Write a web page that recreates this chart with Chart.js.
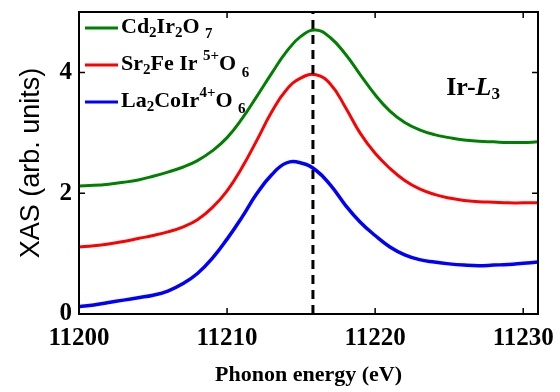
<!DOCTYPE html>
<html lang="en">
<head>
<meta charset="UTF-8">
<title>XAS Ir L3 edge</title>
<style>
  html, body { margin: 0; padding: 0; background: #fff; }
  #wrap { width: 560px; height: 392px; }
</style>
</head>
<body>
<div id="wrap"><canvas id="myChart" width="560" height="392"></canvas></div>

<script src="https://cdn.jsdelivr.net/npm/chart.js"></script>
<script>
    // photon energy grid (eV) and the three spectra
    var energy = [11200, 11201, 11202, 11203, 11204, 11205, 11206, 11207, 11208, 11209,
                  11210, 11211, 11212, 11213, 11214, 11215, 11216, 11217, 11218, 11219,
                  11220, 11221, 11222, 11223, 11224, 11225, 11226, 11227, 11228, 11229,
                  11230, 11231];
    var cd2ir2o7 = [2.12, 2.13, 2.15, 2.18, 2.22, 2.28, 2.35, 2.43, 2.54, 2.70,
                    2.92, 3.23, 3.60, 3.98, 4.34, 4.60, 4.70, 4.57, 4.30, 3.96,
                    3.63, 3.36, 3.17, 3.05, 2.97, 2.92, 2.88, 2.86, 2.85, 2.84,
                    2.84, 2.85];
    var sr2feiro6 = [1.11, 1.13, 1.16, 1.20, 1.25, 1.30, 1.36, 1.44, 1.56, 1.76,
                     2.04, 2.42, 2.87, 3.34, 3.71, 3.91, 3.96, 3.80, 3.42, 2.99,
                     2.66, 2.41, 2.21, 2.07, 1.98, 1.92, 1.88, 1.86, 1.85, 1.84,
                     1.84, 1.84];
    var la2coiro6 = [0.12, 0.15, 0.19, 0.23, 0.27, 0.31, 0.38, 0.50, 0.67, 0.92,
                     1.24, 1.60, 1.99, 2.30, 2.50, 2.50, 2.38, 2.13, 1.80, 1.52,
                     1.30, 1.11, 0.98, 0.90, 0.86, 0.83, 0.81, 0.80, 0.81, 0.82,
                     0.84, 0.86];
    var seriesNames = ['Cd₂Ir₂O₇', 'Sr₂FeIr⁵⁺O₆', 'La₂CoIr⁴⁺O₆'];
    var seriesColors = ['#008000', '#ff0000', '#0000ff'];
    var peakEnergy = 11215.8;
    var xRange = [11200, 11231];
    var yRange = [0, 5];

    var SERIF = "'Liberation Serif', 'Times New Roman', serif";

    function pairs(ys) {
        return energy.map(function (e, i) { return { x: e, y: ys[i] }; });
    }

    // legend text split in normal / sub / superscript pieces
    var B = 'bold 22px ' + SERIF, S = 'bold 15px ' + SERIF;
    var legendParts = [
        [{t: 'Cd', f: B}, {t: '2', f: S, dy: 4}, {t: 'Ir', f: B}, {t: '2', f: S, dy: 4}, {t: 'O ', f: B}, {t: '7', f: S, dy: 5}],
        [{t: 'Sr', f: B}, {t: '2', f: S, dy: 4}, {t: 'Fe Ir ', f: B}, {t: '5+', f: S, dy: -10}, {t: 'O ', f: B}, {t: '6', f: S, dy: 7}],
        [{t: 'La', f: B}, {t: '2', f: S, dy: 4}, {t: 'CoIr', f: B}, {t: '4+', f: S, dy: -10}, {t: 'O ', f: B}, {t: '6', f: S, dy: 6}]
    ];

    function drawRich(ctx, parts, x, y) {
        parts.forEach(function (p) {
            ctx.font = p.f;
            ctx.fillText(p.t, x, y + (p.dy || 0));
            x += ctx.measureText(p.t).width;
        });
    }

    var framePlugin = {
        id: 'frame',
        afterDatasetsDraw: function (chart) {
            var ctx = chart.ctx, a = chart.chartArea;
            var xs = chart.scales.x, ys = chart.scales.y;
            ctx.save();
            ctx.strokeStyle = '#000';
            ctx.lineWidth = 2;
            ctx.strokeRect(a.left, a.top, a.right - a.left, a.bottom - a.top);

            // inward ticks on all four sides
            ctx.lineWidth = 1.5;
            ctx.beginPath();
            xs.ticks.forEach(function (t) {
                var px = xs.getPixelForValue(t.value);
                ctx.moveTo(px, a.bottom); ctx.lineTo(px, a.bottom - 6);
                ctx.moveTo(px, a.top); ctx.lineTo(px, a.top + 6);
            });
            ys.ticks.forEach(function (t) {
                var py = ys.getPixelForValue(t.value);
                ctx.moveTo(a.left, py); ctx.lineTo(a.left + 6, py);
                ctx.moveTo(a.right, py); ctx.lineTo(a.right - 6, py);
            });
            ctx.stroke();

            // legend
            ctx.fillStyle = '#000';
            ctx.textBaseline = 'alphabetic';
            for (var i = 0; i < 3; i++) {
                var ly = a.top + 16 + i * 37;
                ctx.strokeStyle = seriesColors[i];
                ctx.lineWidth = 3;
                ctx.beginPath();
                ctx.moveTo(a.left + 6, ly);
                ctx.lineTo(a.left + 39, ly);
                ctx.stroke();
                drawRich(ctx, legendParts[i], a.left + 42, ly + 5);
            }

            // edge label
            var lx = xs.getPixelForValue(11224.8), lyy = ys.getPixelForValue(3.63);
            drawRich(ctx, [
                {t: 'Ir-', f: 'bold 26px ' + SERIF},
                {t: 'L', f: 'italic bold 26px ' + SERIF},
                {t: '3', f: 'bold 17px ' + SERIF, dy: 4}
            ], lx, lyy);
            ctx.restore();
        }
    };

    var lineBase = { pointRadius: 0, fill: false, tension: 0.45, order: 1 };

    var ctx = document.getElementById('myChart').getContext('2d');
    var myChart = new Chart(ctx, {
        type: 'line',
        data: {
            datasets: [
                {
                    label: 'peak', data: [{x: peakEnergy, y: yRange[0]}, {x: peakEnergy, y: yRange[1]}],
                    borderColor: '#000', borderWidth: 3, borderDash: [9, 6], pointRadius: 0, order: 0
                },
                Object.assign({ label: seriesNames[0], data: pairs(cd2ir2o7), borderColor: seriesColors[0], borderWidth: 3 }, lineBase),
                Object.assign({ label: seriesNames[1], data: pairs(sr2feiro6), borderColor: seriesColors[1], borderWidth: 3 }, lineBase),
                Object.assign({ label: seriesNames[2], data: pairs(la2coiro6), borderColor: seriesColors[2], borderWidth: 3.5 }, lineBase)
            ]
        },
        options: {
            responsive: false,
            animation: false,
            devicePixelRatio: 1,
            layout: { padding: { top: 12, right: 22, left: 0, bottom: 0 } },
            plugins: { legend: { display: false }, tooltip: { enabled: false } },
            scales: {
                x: {
                    type: 'linear', min: xRange[0], max: xRange[1],
                    grid: { display: false, drawTicks: false },
                    border: { display: false },
                    ticks: {
                        stepSize: 10, includeBounds: false, maxRotation: 0, autoSkip: false,
                        padding: 10, color: '#000',
                        font: { family: SERIF, size: 25, weight: 'bold' },
                        callback: function (v) { return String(v); }
                    },
                    title: {
                        display: true, text: 'Phonon energy (eV)', color: '#000',
                        font: { family: SERIF, size: 22, weight: 'bold', lineHeight: 1 },
                        padding: { top: 0, bottom: 6 }
                    },
                    afterFit: function (s) {
                        s.height = 78;
                        s.paddingLeft = 0; s.paddingRight = 0;
                    }
                },
                y: {
                    min: yRange[0], max: yRange[1],
                    grid: { display: false, drawTicks: false },
                    border: { display: false },
                    ticks: {
                        stepSize: 2, includeBounds: false, padding: 7, color: '#000',
                        font: { family: SERIF, size: 25, weight: 'bold' }
                    },
                    title: {
                        display: true, text: 'XAS (arb. units)', color: '#000',
                        font: { family: "'Liberation Sans', Arial, sans-serif", size: 27, lineHeight: 1 },
                        padding: { top: 18, bottom: 0 }
                    },
                    afterFit: function (s) {
                        s.width = 79;
                        s.paddingTop = 0; s.paddingBottom = 0;
                    }
                }
            }
        },
        plugins: [framePlugin]
    });
</script>
</body>
</html>
